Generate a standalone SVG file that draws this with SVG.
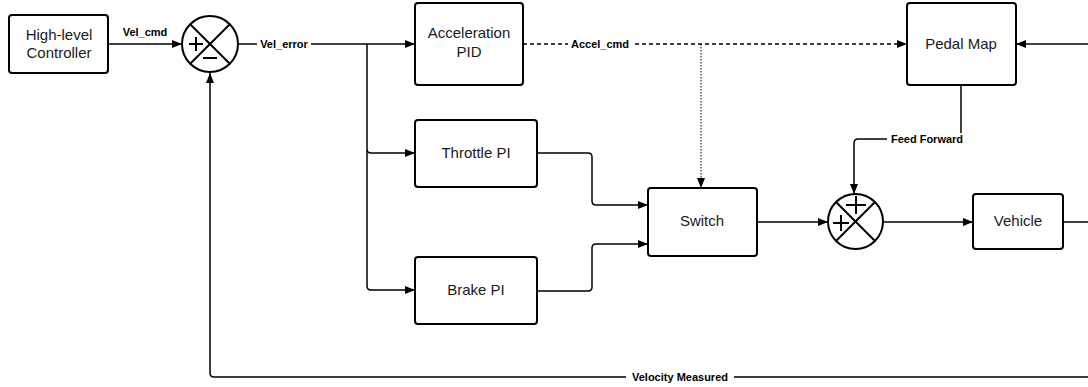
<svg xmlns="http://www.w3.org/2000/svg" width="1088" height="387" viewBox="0 0 1088 387">
<style>
.box{fill:#fff;stroke:#000;stroke-width:2}
.t{font-family:"Liberation Sans",Arial,sans-serif;font-size:15px;fill:#1a1a1a;text-anchor:middle}
.lbl{font-family:"Liberation Sans",Arial,sans-serif;font-size:11px;font-weight:bold;fill:#000;text-anchor:middle}
.bg{fill:#fff}
.c{fill:none;stroke:#000;stroke-width:1.5}
.sym{fill:none;stroke:#000;stroke-width:2}
</style>
<defs>
<marker id="a" markerWidth="10" markerHeight="8" refX="10" refY="4" orient="auto" markerUnits="userSpaceOnUse">
<path d="M0,0 L10,4 L0,8 Z" fill="#000"/>
</marker>
</defs>
<rect width="1088" height="387" fill="#fff"/>
<g id="connectors">
<path class="c" d="M108,44 H182" marker-end="url(#a)"/>
<path class="c" d="M238,44 H415" marker-end="url(#a)"/>
<path class="c" d="M367,44 V149 Q367,153 371,153 H415" marker-end="url(#a)"/>
<path class="c" d="M367,150 V286 Q367,290 371,290 H415" marker-end="url(#a)"/>
<path class="c" d="M537,153 H588 Q592,153 592,157 V201 Q592,205 596,205 H648" marker-end="url(#a)"/>
<path class="c" d="M537,291 H588 Q592,291 592,287 V248 Q592,244 596,244 H648" marker-end="url(#a)"/>
<path class="c" d="M523,44 H907" stroke-dasharray="4,3" marker-end="url(#a)"/>
<path d="M701,44 V188" fill="none" stroke="#000" stroke-width="1" stroke-dasharray="1.5,1.5" marker-end="url(#a)"/>
<path class="c" d="M757,222 H828" marker-end="url(#a)"/>
<path class="c" d="M961,85 V139 H858 Q854,139 854,143 V194" marker-end="url(#a)"/>
<path class="c" d="M883,222 H973" marker-end="url(#a)"/>
<path class="c" d="M1063,222 H1088"/>
<path class="c" d="M1088,44 H1016" marker-end="url(#a)"/>
<path class="c" d="M1088,377 H214 Q210,377 210,373 V73" marker-end="url(#a)"/>
<rect class="bg" x="257" y="38" width="54" height="13"/>
<rect class="bg" x="568" y="38" width="65" height="13"/>
<rect class="bg" x="887" y="133" width="80" height="13"/>
<rect class="bg" x="626" y="371" width="108" height="13"/>
<text class="lbl" x="145" y="36">Vel_cmd</text>
<text class="lbl" x="284" y="48">Vel_error</text>
<text class="lbl" x="600" y="48">Accel_cmd</text>
<text class="lbl" x="927" y="143">Feed Forward</text>
<text class="lbl" x="680" y="381">Velocity Measured</text>
</g>
<g id="controller">
<rect class="box" x="9" y="15" width="99" height="58" rx="3"/>
<text class="t" x="59" y="40">High-level</text>
<text class="t" x="59" y="58">Controller</text>
</g>
<g id="sum1">
<circle class="sym" cx="210" cy="44" r="28"/>
<path class="sym" d="M190.2,24.2 L229.8,63.8 M229.8,24.2 L190.2,63.8"/>
<path class="sym" d="M189,44 H203 M196,37 V51 M203,58 H217"/>
</g>
<g id="accel_pid">
<rect class="box" x="415" y="3" width="108" height="82" rx="3"/>
<text class="t" x="469" y="38">Acceleration</text>
<text class="t" x="469" y="57">PID</text>
</g>
<g id="pedal_map">
<rect class="box" x="907" y="3" width="109" height="82" rx="3"/>
<text class="t" x="961" y="49">Pedal Map</text>
</g>
<g id="throttle_pi">
<rect class="box" x="415" y="120" width="122" height="67" rx="3"/>
<text class="t" x="476" y="158">Throttle PI</text>
</g>
<g id="brake_pi">
<rect class="box" x="415" y="257" width="122" height="67" rx="3"/>
<text class="t" x="476" y="295">Brake PI</text>
</g>
<g id="switch">
<rect class="box" x="648" y="188" width="109" height="68" rx="3"/>
<text class="t" x="702" y="226">Switch</text>
</g>
<g id="sum2">
<circle class="sym" cx="855.5" cy="221.5" r="27.5"/>
<path class="sym" d="M836,202 L875,241 M875,202 L836,241"/>
<path class="sym" d="M846,205 H866 M856,196 V214 M833,223 H849 M841,215 V231"/>
</g>
<g id="vehicle">
<rect class="box" x="973" y="194" width="90" height="55" rx="3"/>
<text class="t" x="1018" y="226">Vehicle</text>
</g>
</svg>
